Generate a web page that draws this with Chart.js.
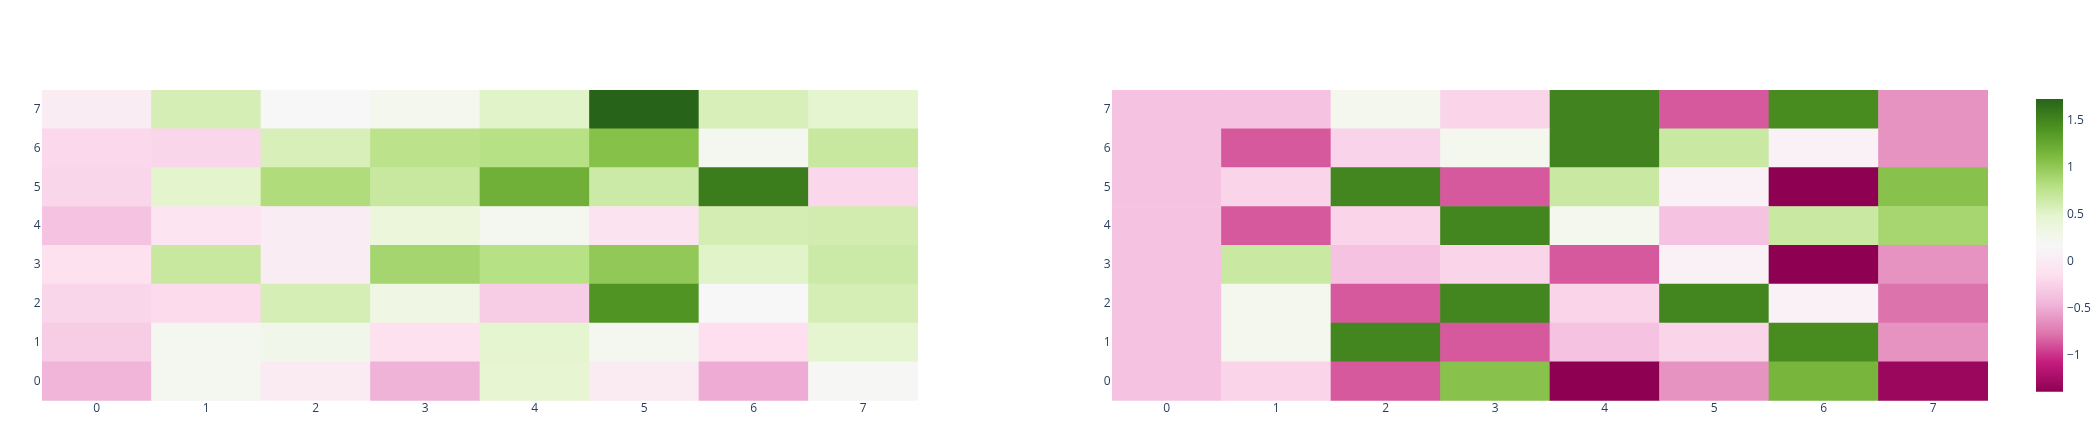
<!DOCTYPE html>
<html>
<head>
<meta charset="utf-8">
<script src="https://cdn.jsdelivr.net/npm/chart.js@4/dist/chart.umd.min.js"></script>
<style>
  html, body { margin: 0; padding: 0; background: #fff; }
  body { width: 2096px; height: 435px; position: relative; overflow: hidden; }
  canvas { position: absolute; top: 0; }
</style>
</head>
<body>
<canvas id="leftMap" width="1000" height="435" style="left:0px;width:1000px;height:435px"></canvas>
<canvas id="rightMap" width="1000" height="435" style="left:1050px;width:1000px;height:435px"></canvas>
<canvas id="colorBar" width="96" height="435" style="left:2000px;width:96px;height:435px"></canvas>
<script>
const xLabels = ['0', '1', '2', '3', '4', '5', '6', '7'];
const yLabels = ['0', '1', '2', '3', '4', '5', '6', '7'];
const colorbarTicks = [-1, -0.5, 0, 0.5, 1, 1.5];

// left heatmap, one array per row (row 0 is the bottom row)
const leftRow0 = [-0.45, 0.24, 0.01, -0.46, 0.46, 0.0, -0.50, 0.19];
const leftRow1 = [-0.28, 0.24, 0.28, -0.12, 0.49, 0.23, -0.14, 0.49];
const leftRow2 = [-0.21, -0.17, 0.60, 0.33, -0.28, 1.40, 0.175, 0.60];
const leftRow3 = [-0.12, 0.69, 0.03, 0.90, 0.80, 1.01, 0.52, 0.66];
const leftRow4 = [-0.35, -0.07, 0.03, 0.40, 0.24, -0.10, 0.61, 0.62];
const leftRow5 = [-0.21, 0.50, 0.84, 0.69, 1.20, 0.66, 1.565, -0.20];
const leftRow6 = [-0.195, -0.21, 0.58, 0.77, 0.80, 1.07, 0.24, 0.69];
const leftRow7 = [0.02, 0.60, 0.175, 0.25, 0.52, 1.73, 0.58, 0.49];

// right heatmap
const rightRow0 = [-0.35, -0.22, -0.86, 1.06, -1.38, -0.62, 1.16, -1.31];
const rightRow1 = [-0.35, 0.25, 1.50, -0.86, -0.35, -0.22, 1.46, -0.62];
const rightRow2 = [-0.35, 0.25, -0.86, 1.50, -0.22, 1.50, 0.09, -0.77];
const rightRow3 = [-0.35, 0.68, -0.35, -0.22, -0.86, 0.09, -1.38, -0.62];
const rightRow4 = [-0.35, -0.86, -0.22, 1.50, 0.25, -0.35, 0.68, 0.89];
const rightRow5 = [-0.35, -0.22, 1.50, -0.86, 0.68, 0.09, -1.38, 1.06];
const rightRow6 = [-0.35, -0.86, -0.23, 0.25, 1.52, 0.68, 0.09, -0.62];
const rightRow7 = [-0.35, -0.35, 0.25, -0.22, 1.52, -0.86, 1.46, -0.62];

const leftRows = [leftRow0, leftRow1, leftRow2, leftRow3, leftRow4, leftRow5, leftRow6, leftRow7];
const rightRows = [rightRow0, rightRow1, rightRow2, rightRow3, rightRow4, rightRow5, rightRow6, rightRow7];

// PiYG
const piyg = [
  [142, 1, 82], [197, 27, 125], [222, 119, 174], [241, 182, 218], [253, 224, 239],
  [247, 247, 247], [230, 245, 208], [184, 225, 134], [127, 188, 65], [77, 146, 33], [39, 100, 25]
];

const allValues = leftRows.flat().concat(rightRows.flat());
const zmin = Math.min(...allValues);
const zmax = Math.max(...allValues);

function colorAt(v) {
  let t = (v - zmin) / (zmax - zmin);
  t = Math.max(0, Math.min(1, t));
  const pos = t * (piyg.length - 1);
  const i = Math.min(Math.floor(pos), piyg.length - 2);
  const f = pos - i;
  const a = piyg[i], b = piyg[i + 1];
  const c = a.map((x, k) => Math.round(x + (b[k] - x) * f));
  return 'rgb(' + c.join(',') + ')';
}

const minus = (s) => String(s).replace('-', '\u2212');

Chart.defaults.font.family = '"Open Sans", sans-serif';
Chart.defaults.font.size = 12;
Chart.defaults.color = '#2a3f5f';
Chart.defaults.animation = false;

function heatmap(id, rows, yWidth, padRight) {
  const datasets = rows.map((row, r) => ({
    data: row.map(() => [r - 0.5, r + 0.5]),
    backgroundColor: row.map(colorAt),
    borderWidth: 0,
    barPercentage: 1,
    categoryPercentage: 1
  }));
  new Chart(document.getElementById(id), {
    type: 'bar',
    data: { labels: xLabels, datasets: datasets },
    options: {
      responsive: false,
      devicePixelRatio: 1,
      layout: { padding: { top: 90, right: padRight, bottom: 0, left: 0 } },
      plugins: { legend: { display: false }, tooltip: { enabled: false } },
      scales: {
        x: {
          stacked: true,
          grid: { display: false, drawTicks: false },
          border: { display: false },
          ticks: { padding: 1, maxRotation: 0 },
          afterFit: (s) => { s.height = 34.3; }
        },
        y: {
          min: -0.5,
          max: 7.5,
          grid: { display: false, drawTicks: false },
          border: { display: false },
          ticks: { padding: 1.5, callback: (v) => yLabels[v] },
          afterBuildTicks: (s) => { s.ticks = yLabels.map((l, i) => ({ value: i })); },
          afterFit: (s) => { s.width = yWidth; }
        }
      }
    }
  });
}

heatmap('leftMap', leftRows, 42, 82);
heatmap('rightMap', rightRows, 62, 62);

new Chart(document.getElementById('colorBar'), {
  type: 'bar',
  data: {
    labels: ['c'],
    datasets: [{
      data: [[zmin, zmax]],
      borderWidth: 0,
      barPercentage: 1,
      categoryPercentage: 1,
      backgroundColor: (ctx) => {
        const area = ctx.chart.chartArea;
        if (!area) return '#fff';
        const g = ctx.chart.ctx.createLinearGradient(0, area.bottom, 0, area.top);
        piyg.forEach((c, i) => g.addColorStop(i / (piyg.length - 1), 'rgb(' + c.join(',') + ')'));
        return g;
      }
    }]
  },
  options: {
    responsive: false,
    devicePixelRatio: 1,
    layout: { padding: { top: 99, right: 0, bottom: 43.3, left: 36 } },
    plugins: { legend: { display: false }, tooltip: { enabled: false } },
    scales: {
      x: { display: false },
      y: {
        position: 'right',
        min: zmin,
        max: zmax,
        grid: { display: false, drawTicks: false },
        border: { display: false },
        ticks: { padding: 4, callback: (v) => minus(v) },
        afterBuildTicks: (s) => { s.ticks = colorbarTicks.map((v) => ({ value: v })); },
        afterFit: (s) => { s.width = 33; }
      }
    }
  }
});
</script>
</body>
</html>
